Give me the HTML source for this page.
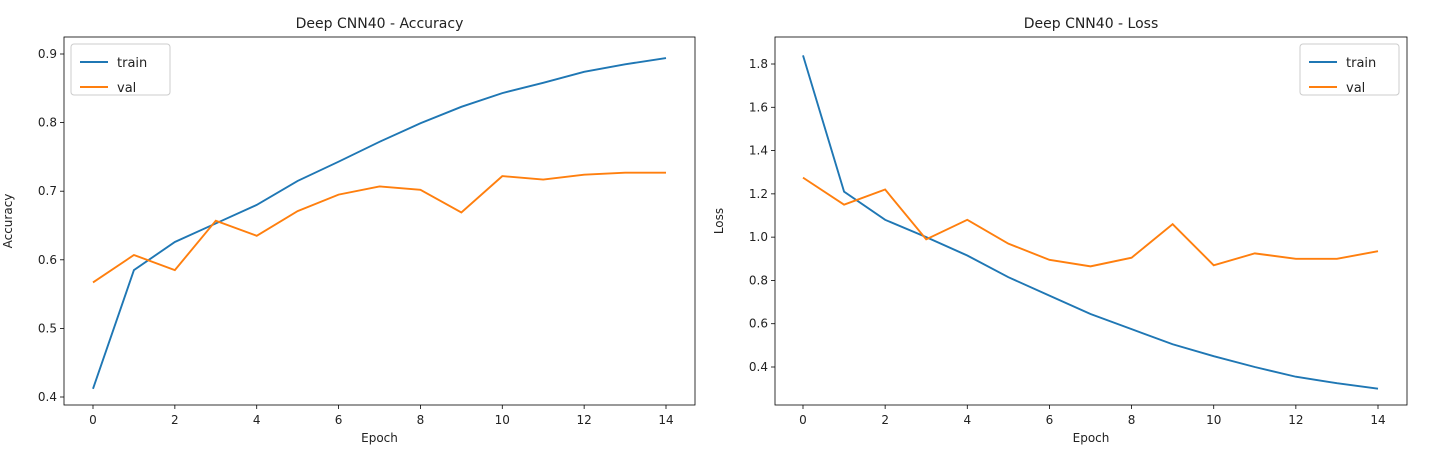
<!DOCTYPE html>
<html><head><meta charset="utf-8"><style>
body{margin:0;background:#fff;}
svg{display:block;font-family:"DejaVu Sans","Liberation Sans",sans-serif;}
</style></head><body>
<svg id="c" width="1429" height="463"></svg>
<script>
const epochs=[0,1,2,3,4,5,6,7,8,9,10,11,12,13,14];
const accTrain=[0.412,0.585,0.626,0.653,0.680,0.715,0.743,0.772,0.799,0.823,0.843,0.858,0.874,0.885,0.894];
const accVal=[0.567,0.607,0.585,0.657,0.635,0.671,0.695,0.707,0.702,0.669,0.722,0.717,0.724,0.727,0.727];
const lossTrain=[1.84,1.21,1.08,1.00,0.915,0.815,0.73,0.645,0.575,0.505,0.45,0.40,0.355,0.325,0.30];
const lossVal=[1.275,1.15,1.22,0.99,1.08,0.97,0.895,0.865,0.905,1.06,0.87,0.925,0.90,0.90,0.935];
const xTicks=[0,2,4,6,8,10,12,14];
const accTicks=[0.4,0.5,0.6,0.7,0.8,0.9];
const lossTicks=[0.4,0.6,0.8,1.0,1.2,1.4,1.6,1.8];
const NS="http://www.w3.org/2000/svg";
const svg=document.getElementById('c');
function mk(tag,attrs,parent){const e=document.createElementNS(NS,tag);for(const k in attrs)e.setAttribute(k,attrs[k]);(parent||svg).appendChild(e);return e;}
function panel(o){
  const g=mk('g',{});
  
  
  const x=v=>o.x0+(v-0)*(o.x14-o.x0)/14;
  const y=v=>o.yb+(v-o.vb)*(o.yt-o.yb)/(o.vt-o.vb);
  xTicks.forEach(t=>{
    mk('line',{x1:x(t),x2:x(t),y1:o.bottom,y2:o.bottom+4,stroke:'#000','stroke-width':0.8},g);
    const tx=mk('text',{x:x(t),y:o.bottom+19,'text-anchor':'middle','font-size':12,fill:'#222'},g);tx.textContent=t;
    
    
  });
  o.yTicks.forEach(t=>{
    mk('line',{x1:o.left-4,x2:o.left,y1:y(t),y2:y(t),stroke:'#000','stroke-width':0.8},g);
    const tx=mk('text',{x:o.left-7,y:y(t)+4,'text-anchor':'end','font-size':12,fill:'#222'},g);tx.textContent=t.toFixed(1);
    
    
  });
  const series=[[o.train,'#1f77b4','train-line'],[o.val,'#ff7f0e','val-line']];
  series.forEach(([d,c,n])=>{
    const p=mk('polyline',{points:d.map((v,i)=>x(epochs[i])+','+y(v)).join(' '),fill:'none',stroke:c,'stroke-width':1.9},g);
    
    
  });
  const fr=mk('rect',{x:o.left,y:o.top,width:o.right-o.left,height:o.bottom-o.top,fill:'none',stroke:'#000','stroke-width':0.8},g);
  
  
  const ti=mk('text',{x:(o.left+o.right)/2,y:o.top-9,'text-anchor':'middle','font-size':14,fill:'#222'},g);ti.textContent=o.title;
  
  
  const xl=mk('text',{x:(o.left+o.right)/2,y:o.bottom+37,'text-anchor':'middle','font-size':12,fill:'#222'},g);xl.textContent='Epoch';
  
  
  const yx=o.left-52, yy=(o.top+o.bottom)/2;
  const yl=mk('text',{x:yx,y:yy,'text-anchor':'middle','font-size':12,fill:'#222',transform:`rotate(-90 ${yx} ${yy})`},g);yl.textContent=o.ylabel;
  
  
  const lg=mk('g',{},g);
  
  
  mk('rect',{x:o.lx,y:o.top+7,width:99,height:51,rx:3,fill:'#fff',stroke:'#ccc','stroke-width':1},lg);
  [['train','#1f77b4'],['val','#ff7f0e']].forEach(([t,c],i)=>{
    const yy2=o.top+25+i*25;
    mk('line',{x1:o.lx+9,x2:o.lx+37,y1:yy2,y2:yy2,stroke:c,'stroke-width':1.9},lg);
    const tt=mk('text',{x:o.lx+46,y:yy2+5,'font-size':13,fill:'#222'},lg);tt.textContent=t;
    
    
  });
}
panel({name:'accuracy-chart',title:'Deep CNN40 - Accuracy',ylabel:'Accuracy',left:64,right:695,top:37,bottom:405,x0:93,x14:666,vb:0.4,vt:0.9,yb:397,yt:54,yTicks:accTicks,train:accTrain,val:accVal,lx:71});
panel({name:'loss-chart',title:'Deep CNN40 - Loss',ylabel:'Loss',left:775,right:1407,top:37,bottom:405,x0:803,x14:1378,vb:0.4,vt:1.8,yb:367,yt:64,yTicks:lossTicks,train:lossTrain,val:lossVal,lx:1300});
</script>
</body></html>
